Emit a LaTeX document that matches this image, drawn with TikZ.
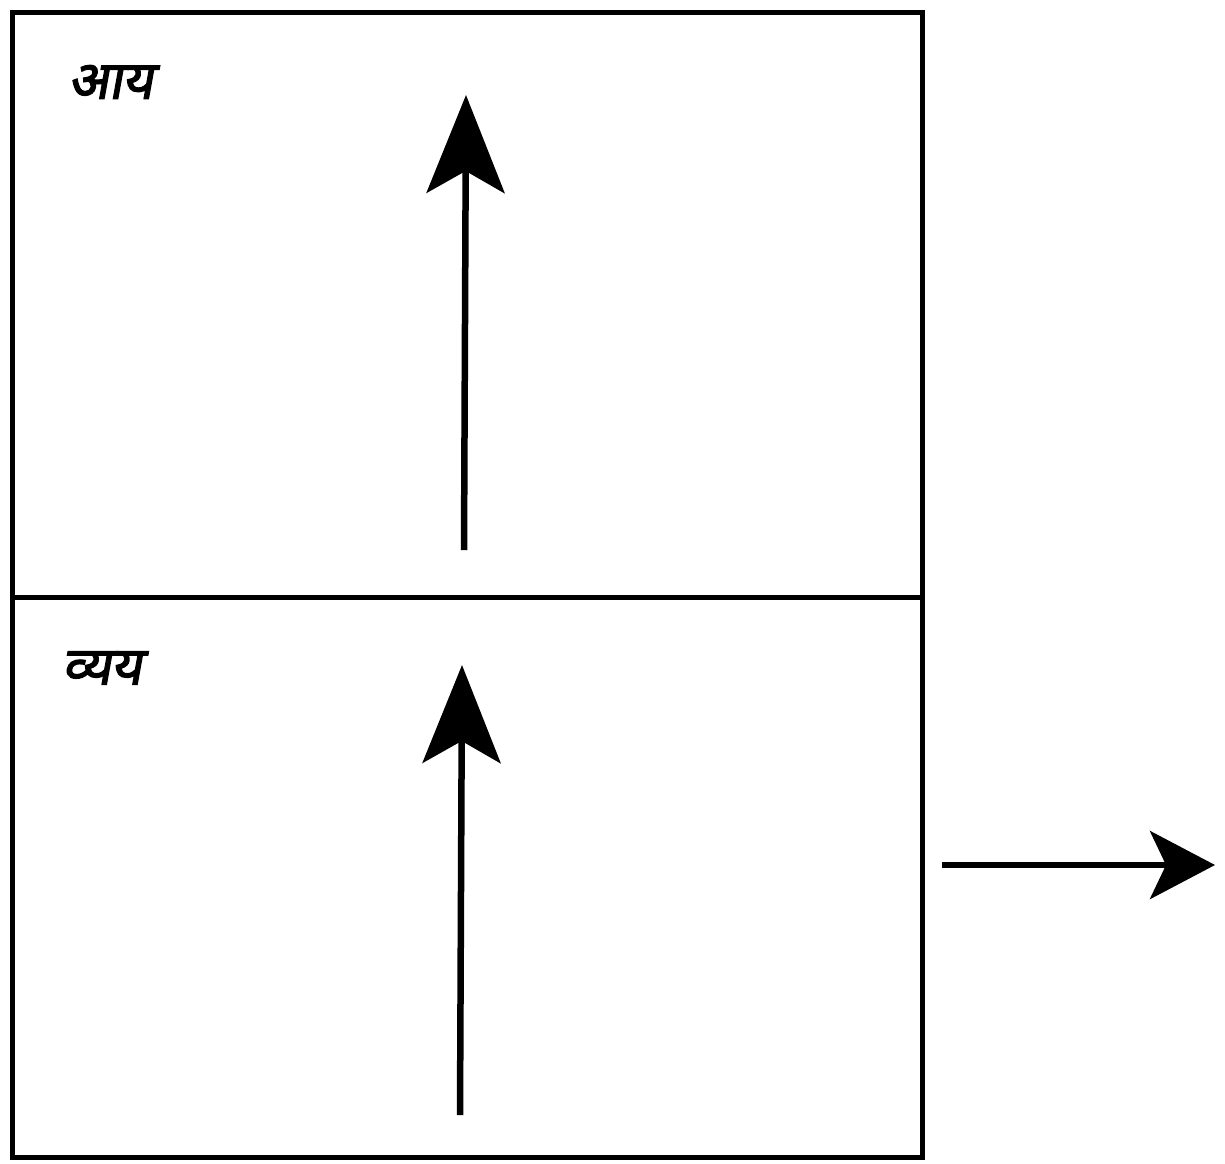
\documentclass[tikz,border=0pt]{standalone}
\usepackage{fontspec}
\newfontfamily\devfont[Script=Devanagari,FakeSlant=0.18,FakeBold=2.5]{Noto Sans}
\usetikzlibrary{arrows.meta}
\tikzset{
  boxline/.style={line width=5pt, draw=black},
  uparrow/.style={line width=6.5pt, -{Stealth[length=98pt, width=78pt, inset=22pt]}},
  label/.style={font=\devfont\fontsize{53}{60}\selectfont, anchor=west, inner sep=0pt}
}
\begin{document}
\begin{tikzpicture}[x=1pt,y=-1pt]
\useasboundingbox (0,0) rectangle (1225,1163);
\node[boxline, draw, minimum width=910pt, minimum height=585pt, inner sep=0pt, anchor=north west] (top) at (10,10) {};
\node[boxline, draw, minimum width=910pt, minimum height=560pt, inner sep=0pt, anchor=north west] (bot) at (10,595) {};
\node[label] (aay) at (68,82) {आय};
\node[label] (vyay) at (62,668) {व्यय};
\coordinate (a1s) at (464,550);
\coordinate (a1e) at (466,95);
\coordinate (a2s) at (460,1115);
\coordinate (a2e) at (462,665);
\coordinate (a3s) at (942,865);
\coordinate (a3e) at (1215,865);
\draw[uparrow] (a1s) -- (a1e);
\draw[uparrow] (a2s) -- (a2e);
\draw[line width=6pt, -{Stealth[length=65pt, width=68pt, inset=16pt]}] (a3s) -- (a3e);
\end{tikzpicture}
\end{document}
